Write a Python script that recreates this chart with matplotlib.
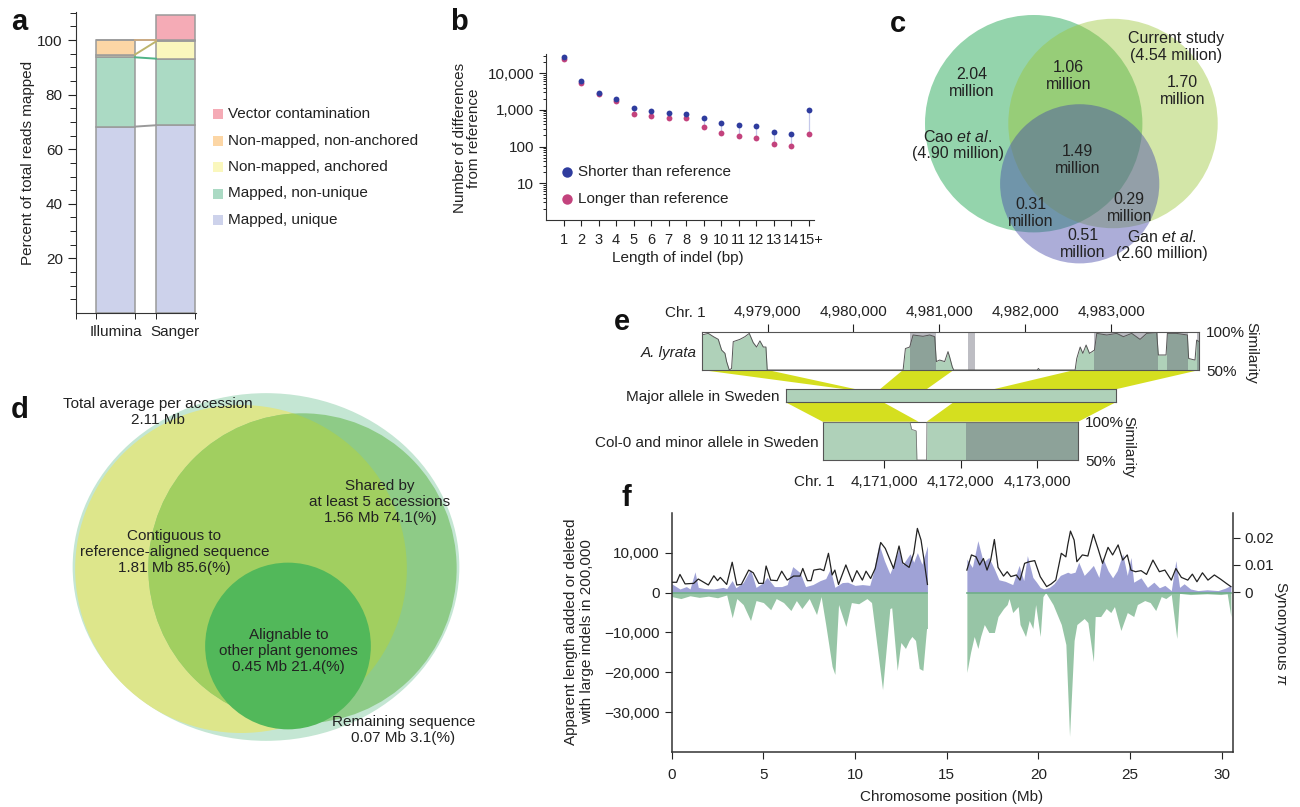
import numpy as np
import matplotlib.pyplot as plt
from matplotlib.patches import Ellipse, Circle, Rectangle, Polygon
from matplotlib.ticker import FixedLocator, FuncFormatter, NullFormatter, LogLocator
from matplotlib.transforms import blended_transform_factory, ScaledTranslation

plt.rcParams['font.family'] = ['Liberation Sans', 'DejaVu Sans']
plt.rcParams['font.size'] = 11
plt.rcParams['mathtext.fontset'] = 'custom'
plt.rcParams['mathtext.rm'] = 'Liberation Sans'
plt.rcParams['mathtext.it'] = 'Liberation Sans:italic'
plt.rcParams['mathtext.bf'] = 'Liberation Sans:bold'
plt.rcParams['axes.unicode_minus'] = True

TXT = '#222222'

# ---------------- data ----------------
# (a) read mapping, percent of total reads
platforms = ['Illumina', 'Sanger']
read_classes = ['Mapped, unique', 'Mapped, non-unique', 'Non-mapped, anchored',
                'Non-mapped, non-anchored', 'Vector contamination']
illumina_pct = [68.3, 25.4, 1.0, 5.3, 0.0]
sanger_pct = [68.8, 24.4, 6.3, 0.5, 9.2]

# (b) indel length spectrum
indel_labels = ['1', '2', '3', '4', '5', '6', '7', '8', '9', '10', '11', '12', '13', '14', '15+']
shorter_than_ref = [28000, 5900, 2950, 1950, 1150, 920, 840, 775, 590, 450, 380, 365, 255, 218, 1000]
longer_than_ref = [24000, 5200, 2650, 1750, 790, 680, 580, 590, 350, 230, 195, 175, 115, 105, 218]

# (c) SNP overlap (millions)
venn_c_regions = ['2.04\nmillion', '1.06\nmillion', '1.70\nmillion', '1.49\nmillion',
                  '0.31\nmillion', '0.29\nmillion', '0.51\nmillion']
venn_c_sets = [r'Cao $\it{et\ al.}$' + '\n(4.90 million)',
               'Current study\n(4.54 million)',
               r'Gan $\it{et\ al.}$' + '\n(2.60 million)']

# (d) non-reference sequence per accession
venn_d_labels = ['Total average per accession\n2.11 Mb',
                 'Contiguous to\nreference-aligned sequence\n1.81 Mb 85.6(%)',
                 'Shared by\nat least 5 accessions\n1.56 Mb 74.1(%)',
                 'Alignable to\nother plant genomes\n0.45 Mb 21.4(%)',
                 'Remaining sequence\n0.07 Mb 3.1(%)']

# (e) similarity profile of A. lyrata (bp, %)
lyrata_pos = [4978233, 4978310, 4978370, 4978426, 4978465, 4978504, 4978523, 4978554, 4978581,
              4978600, 4978678, 4978736, 4978787, 4978833, 4978872, 4978911, 4978950, 4978981, 4978996,
              4980578, 4980605, 4980655, 4980694, 4980810, 4980888, 4980946, 4980965, 4981004,
              4981062, 4981101, 4981120, 4981151, 4981167,
              4982140, 4982154, 4982168,
              4982581, 4982600, 4982640, 4982671, 4982709, 4982748, 4982806, 4982833, 4982950,
              4983066, 4983143, 4983240, 4983337, 4983415, 4983531, 4983550, 4983640, 4983655,
              4983760, 4983888, 4983903, 4983977, 4983996, 4984027]
lyrata_sim = [95.7, 97.8, 93.5, 90.0, 76.0, 71.7, 61.0, 50.0, 52.0,
              87.0, 90.0, 93.5, 97.8, 85.7, 80.0, 88.0, 80.0, 80.0, 50.0,
              50.0, 78.0, 80.0, 95.7, 94.0, 95.7, 93.5, 61.0, 63.0,
              61.0, 74.0, 67.0, 54.0, 50.0,
              50.0, 52.0, 50.0,
              50.0, 65.0, 80.0, 71.7, 82.6, 71.7, 76.0, 97.8, 95.7,
              97.8, 93.5, 97.8, 90.0, 97.8, 99.0, 69.6, 69.6, 97.8,
              97.8, 95.7, 65.0, 63.0, 89.0, 87.0]
lyrata_conserved = [(4980663, 4980958), (4981337, 4981415), (4982806, 4983550),
                    (4983647, 4983899), (4983996, 4984027)]

col0_pos = [4170200, 4171340, 4171361, 4171420, 4171430, 4171556, 4171560, 4173536]
col0_sim = [99.0, 99.0, 90.0, 88.0, 50.0, 50.0, 99.0, 99.0]
col0_conserved = [(4172076, 4173536)]

upper_links_top = [(4978233, 4979000), (4980577, 4981167), (4982573, 4984027)]
upper_links_major = [(700, 820), (1095, 1638), (2414, 3837)]
lower_links_major = [(0, 1135), (1951, 3837)]
lower_links_col0 = [(4170200, 4171450), (4171557, 4173536)]

# (f) large indels and synonymous diversity along chromosome 1 (Mb)
added_mb = [0.0, 0.45, 0.8, 1.0, 1.27, 1.45, 1.8, 2.3, 2.8, 3.0, 3.3, 3.5, 3.9, 4.3, 4.6, 5.0, 5.2,
            5.6, 6.0, 6.3, 6.6, 7.0, 7.3, 7.7, 8.1, 8.4, 8.65, 8.9, 9.3, 9.6, 10.0, 10.4, 10.8,
            11.0, 11.3, 11.6, 11.9, 12.1, 12.4, 12.6, 12.75, 13.0, 13.2, 13.4, 13.65, 13.95,
            16.1, 16.4, 16.7, 17.0, 17.3, 17.6, 17.85, 18.2, 18.6, 18.95, 19.2, 19.4, 19.7, 19.9,
            20.1, 20.3, 20.6, 20.85, 21.2, 21.6, 21.75, 22.0, 22.2, 22.5, 22.75, 23.0, 23.3, 23.5,
            23.8, 24.05, 24.3, 24.6, 24.85, 25.05, 25.2, 25.6, 25.95, 26.3, 26.6, 26.9, 27.25,
            27.5, 27.7, 27.95, 28.3, 28.7, 29.2, 29.8, 30.2, 30.5]
added_bp = [2200, 900, 1500, 900, 5200, 1300, 1000, 900, 1300, 1000, 3000, 1200, 2500, 5800, 1300,
            2500, 3800, 1500, 1500, 2000, 6500, 5000, 1500, 2000, 3000, 3500, 5900, 1300, 2500,
            2600, 1800, 2000, 1800, 5000, 12200, 8000, 4700, 7000, 11000, 7000, 8000, 9700, 7600,
            10000, 7100, 11700,
            8400, 6300, 13000, 7600, 8800, 5900, 3200, 2800, 2000, 6800, 3000, 9250, 3800, 2600,
            1300, 900, 1300, 2200, 4300, 5100, 4800, 5100, 7600, 4300, 5500, 6800, 3800, 8800,
            5500, 3700, 5500, 9700, 4300, 8800, 2600, 3700, 1300, 2600, 1200, 1800, 500,
            8000, 1300, 2200, 900, 500, 700, 500, 1100, 1800]
deleted_mb = [0.0, 0.5, 1.0, 1.5, 2.0, 2.5, 3.0, 3.3, 3.55, 3.9, 4.3, 4.6, 5.0, 5.4, 5.7, 6.1,
              6.5, 6.8, 7.1, 7.5, 7.9, 8.15, 8.4, 8.75, 8.9, 9.1, 9.5, 9.8, 10.2, 10.65, 10.9,
              11.5, 11.8, 11.9, 12.0, 12.3, 12.5, 12.75, 12.95, 13.1, 13.3, 13.5, 13.7, 13.9, 13.95,
              16.1, 16.3, 16.5, 16.7, 16.85, 17.05, 17.3, 17.6, 17.8, 18.1, 18.3, 18.4, 18.6,
              18.9, 19.0, 19.3, 19.5, 19.7, 19.85, 20.1, 20.25, 20.4, 20.8, 21.25, 21.5, 21.7,
              21.95, 22.1, 22.5, 22.7, 23.0, 23.1, 23.4, 23.7, 23.95, 24.15, 24.5, 24.85, 25.2,
              25.4, 25.8, 26.1, 26.4, 26.7, 26.95, 27.25, 27.55, 27.7, 28.3, 29.2, 29.95, 30.3,
              30.5]
deleted_bp = [-1000, -1500, -800, -1200, -900, -1300, -600, -6300, -1500, -3000, -7000, -2000,
              -2500, -4300, -1500, -2500, -4500, -2000, -4000, -1500, -5500, -1000, -8000, -18500,
              -20500, -3000, -8500, -2500, -2800, -1500, -2500, -24300, -9000, -4000, -3800,
              -19500, -12500, -14000, -12000, -11000, -12000, -19000, -19500, -9000, -9000,
              -20000, -15000, -11000, -14000, -11000, -8000, -10000, -10000, -6000, -4000, -3000,
              -1500, -5000, -3500, -8000, -11000, -7000, -9000, -3000, -11000, -1000, 0, -3000,
              -8000, -13000, -36000, -12000, -8000, -6500, -7500, -17300, -6000, -6000, -4000,
              -5000, -3500, -9500, -5000, -6000, -3000, -2000, -2500, -4500, -1000, -1500, -500,
              -11500, -200, -500, -300, -500, -300, -6000]
pi_mb = [0.0, 0.27, 0.45, 0.73, 1.2, 1.45, 2.0, 2.3, 2.5, 2.65, 3.0, 3.3, 3.55, 3.8, 4.2, 4.45,
         4.75, 5.0, 5.15, 5.4, 5.75, 6.0, 6.3, 6.65, 7.0, 7.15, 7.4, 7.6, 7.75, 8.1, 8.3, 8.55,
         8.75, 8.9, 9.1, 9.5, 9.85, 10.1, 10.4, 10.6, 10.85, 11.1, 11.4, 11.65, 12.1, 12.4, 12.6,
         12.95, 13.2, 13.4, 13.6, 13.75, 13.95,
         16.1, 16.35, 16.6, 16.8, 17.0, 17.2, 17.4, 17.6, 17.8, 18.1, 18.3, 18.5, 18.8, 19.0,
         19.25, 19.5, 19.8, 20.1, 20.45, 20.7, 20.95, 21.25, 21.5, 21.6, 21.75, 21.95, 22.1,
         22.4, 22.7, 23.0, 23.25, 23.5, 23.8, 24.05, 24.35, 24.6, 24.85, 25.05, 25.3, 25.6,
         25.9, 26.25, 26.6, 26.9, 27.25, 27.5, 27.8, 28.15, 28.4, 28.65, 28.95, 29.25, 29.6,
         29.95, 30.25, 30.5]
pi_syn = [0.0036, 0.0036, 0.0065, 0.0030, 0.0032, 0.0048, 0.0026, 0.0060, 0.0042, 0.0054,
          0.0028, 0.0110, 0.0026, 0.0028, 0.0081, 0.0071, 0.0032, 0.0032, 0.0096, 0.0044,
          0.0042, 0.0077, 0.0044, 0.0059, 0.0059, 0.0087, 0.0042, 0.0042, 0.0081, 0.0085,
          0.0079, 0.0143, 0.0063, 0.0081, 0.0028, 0.0100, 0.0038, 0.0079, 0.0044, 0.0077,
          0.0050, 0.0087, 0.0183, 0.0161, 0.0087, 0.0170, 0.0108, 0.0091, 0.0143, 0.0235,
          0.0192, 0.0124, 0.0028,
          0.0081, 0.0137, 0.0130, 0.0100, 0.0124, 0.0081, 0.0118, 0.0194, 0.0091, 0.0059,
          0.0075, 0.0057, 0.0063, 0.0044, 0.0106, 0.0112, 0.0116, 0.0057, 0.0020, 0.0030,
          0.0044, 0.0143, 0.0130, 0.0173, 0.0225, 0.0192, 0.0112, 0.0137, 0.0133, 0.0213,
          0.0161, 0.0106, 0.0165, 0.0137, 0.0174, 0.0118, 0.0137, 0.0081, 0.0075, 0.0079,
          0.0065, 0.0118, 0.0075, 0.0081, 0.0044, 0.0087, 0.0054, 0.0044, 0.0066, 0.0038,
          0.0071, 0.0044, 0.0063, 0.0047, 0.0032, 0.0020]
centromere_mb = 15.0

# ---------------- figure ----------------
W, H = 1300, 807
fig = plt.figure(figsize=(W / 100, H / 100), dpi=100)


def box(x0, y0, x1, y1):
    """pixel box (top-left origin) -> figure fraction rect"""
    return [x0 / W, 1 - y1 / H, (x1 - x0) / W, (y1 - y0) / H]


ov = fig.add_axes([0, 0, 1, 1], zorder=10)
ov.set_xlim(0, W)
ov.set_ylim(H, 0)
ov.axis('off')
ov.patch.set_alpha(0)

for lab, x, y in [('a', 19, 22), ('b', 459, 22), ('c', 898, 24), ('d', 20, 410),
                  ('e', 622, 322), ('f', 626, 498)]:
    ov.text(x, y, lab, fontsize=21, fontweight='bold', ha='center', va='center', color='#111')

# ---------- a ----------
axA = fig.add_axes(box(76, 12, 196, 313))
cls_colors = ['#cdd2eb', '#abdac4', '#faf7bd', '#fcd6a5', '#f5abb6']
link_colors = ['#9a9a9a', '#4fb487', '#bdb46c', '#c9a982']
bw = 0.65
cum = np.zeros(2)
tops = []
for i, name in enumerate(read_classes):
    vals = np.array([illumina_pct[i], sanger_pct[i]])
    axA.bar([0, 1], vals, bw, bottom=cum, color=cls_colors[i], edgecolor='#9a9a9a', lw=1.1)
    cum = cum + vals
    tops.append(cum.copy())
for i in range(4):
    axA.plot([bw / 2, 1 - bw / 2], [tops[i][0], tops[i][1]], color=link_colors[i], lw=1.4)
axA.set_xlim(-0.658, 1.342)
axA.set_ylim(0, 110.3)
axA.set_yticks([20, 40, 60, 80, 100])
axA.yaxis.set_minor_locator(FixedLocator(np.arange(5, 111, 5)))
axA.set_xticks([0, 1])
axA.set_xticklabels(platforms)
axA.xaxis.set_minor_locator(FixedLocator([-0.658, -bw / 2, bw / 2, 1 - bw / 2, 1 + bw / 2]))
axA.tick_params(axis='x', which='major', length=0, pad=9, labelsize=11, colors=TXT)
axA.tick_params(axis='x', which='minor', length=4, direction='out')
axA.tick_params(axis='y', which='major', length=6, labelsize=11, colors=TXT)
axA.tick_params(axis='y', which='minor', length=4)
for s in ['top', 'right']:
    axA.spines[s].set_visible(False)
for s in ['left', 'bottom']:
    axA.spines[s].set_color('#333')
ov.text(28, 163, 'Percent of total reads mapped', rotation=90, ha='center', va='center',
        fontsize=11, color=TXT)
for k, i in enumerate(range(4, -1, -1)):
    y = 114.3 + k * 26.4
    ov.add_patch(Rectangle((212.7, y - 5), 10, 10, color=cls_colors[i], lw=0))
    ov.text(228, y, read_classes[i], ha='left', va='center', fontsize=11, color=TXT)

# ---------- b ----------
axB = fig.add_axes(box(546, 54, 814, 220))
pos = np.arange(1, len(indel_labels) + 1)
axB.vlines(pos, longer_than_ref, shorter_than_ref, color='#c5c8ea', lw=0.9)
axB.plot(pos, longer_than_ref, 'o', color='#c3437d', ms=4.2, mec='none')
axB.plot(pos, shorter_than_ref, 'o', color='#2f3c9e', ms=4.2, mec='none')
axB.set_yscale('log')
axB.set_ylim(1, 33000)
axB.set_xlim(0, 15.3)
axB.set_yticks([10, 100, 1000, 10000])
axB.set_yticklabels(['10', '100', '1,000', '10,000'])
axB.yaxis.set_minor_locator(LogLocator(base=10, subs=np.arange(2, 10)))
axB.yaxis.set_minor_formatter(NullFormatter())
axB.set_xticks(pos)
axB.set_xticklabels(indel_labels)
axB.tick_params(axis='x', length=4, pad=5, labelsize=10.5, colors=TXT)
# the last label ("15+") sits a little to the right, as in the original
last = axB.get_xticklabels()[-1]
last.set_transform(last.get_transform() + ScaledTranslation(3 / 100, 0, fig.dpi_scale_trans))
axB.tick_params(axis='y', which='major', length=5, labelsize=11, colors=TXT)
axB.tick_params(axis='y', which='minor', length=2.5)
for s in ['top', 'right']:
    axB.spines[s].set_visible(False)
for s in ['left', 'bottom']:
    axB.spines[s].set_color('#333')
ov.text(467, 138, 'Number of differences\nfrom reference', rotation=90, ha='center',
        va='center', fontsize=11, color=TXT, linespacing=1.05)
ov.text(678, 258, 'Length of indel (bp)', ha='center', va='center', fontsize=11, color=TXT)
ov.plot([566.7], [171.7], 'o', color='#2f3c9e', ms=7.5, mec='none')
ov.plot([566.7], [199.3], 'o', color='#c3437d', ms=7.5, mec='none')
ov.text(578, 171.7, 'Shorter than reference', ha='left', va='center', fontsize=11, color=TXT)
ov.text(578, 199.3, 'Longer than reference', ha='left', va='center', fontsize=11, color=TXT)

# ---------- c ----------
ov.add_patch(Circle((1033.7, 123.7), 108.7, facecolor='#94d4ac', edgecolor='none', zorder=1))
ov.add_patch(Circle((1113.0, 123.5), 104.7, facecolor=(155 / 255, 197 / 255, 53 / 255),
                    alpha=0.43, edgecolor='none', zorder=2))
ov.add_patch(Circle((1079.7, 183.8), 79.6, facecolor=(66 / 255, 70 / 255, 168 / 255),
                    alpha=0.44, edgecolor='none', zorder=3))
c_xy = [(971.7, 83), (1068.7, 76), (1182.7, 91), (1077.7, 160), (1030.7, 213),
        (1129.3, 208), (1082.7, 244)]
for s, (x, y) in zip(venn_c_regions, c_xy):
    ov.text(x, y, s, ha='center', va='center', fontsize=11.5, color=TXT, linespacing=1.1, zorder=5)
for s, (x, y) in zip(venn_c_sets, [(958, 145), (1175.7, 47), (1161.7, 245)]):
    ov.text(x, y, s, ha='center', va='center', fontsize=11.5, color=TXT, linespacing=1.1, zorder=5)

# ---------- d ----------
ov.add_patch(Ellipse((266, 567), 386.7, 347.7, facecolor='#c4e6d3', edgecolor='none', zorder=1))
yel = Ellipse((241, 569), 331.7, 328, facecolor='#dde68b', edgecolor='none', zorder=2)
ov.add_patch(yel)
ov.add_patch(Ellipse((302.5, 568.3), 308.3, 310, facecolor='#8ecb87', edgecolor='none', zorder=3))
inner = Ellipse((302.5, 568.3), 308.3, 310, facecolor='#a1cf60', edgecolor='none', zorder=4)
ov.add_patch(inner)
inner.set_clip_path(yel)
ov.add_patch(Ellipse((288, 646), 165.7, 166.7, facecolor='#52b85a', edgecolor='none', zorder=5))
d_xy = [(158, 412), (174.3, 552), (380, 502), (288.7, 651), (403.3, 730)]
for s, (x, y) in zip(venn_d_labels, d_xy):
    ov.text(x, y, s, ha='center', va='center', fontsize=11, color=TXT, linespacing=1.2, zorder=6)

# ---------- e ----------
green_lt = '#afd1b9'
band_col = (92 / 255, 92 / 255, 105 / 255)


def comma(v, p=None):
    return f'{v:,.0f}'


axT = fig.add_axes(box(701.7, 331.7, 1199.3, 370))
axT.fill_between(lyrata_pos, 50, lyrata_sim, color=green_lt, lw=0, zorder=1)
for a, b in lyrata_conserved:
    axT.axvspan(a, b, color=band_col, alpha=0.4, lw=0, zorder=2)
axT.plot(lyrata_pos, lyrata_sim, color='#555', lw=0.7, zorder=3)
axT.set_xlim(4978233, 4984027)
axT.set_ylim(50, 100)
axT.xaxis.tick_top()
axT.set_xticks([4979000, 4980000, 4981000, 4982000, 4983000])
axT.xaxis.set_major_formatter(FuncFormatter(comma))
axT.tick_params(axis='x', length=6, pad=3, labelsize=11, colors=TXT)
axT.yaxis.tick_right()
axT.set_yticks([50, 100])
axT.set_yticklabels(['50%', '100%'])
axT.tick_params(axis='y', length=0, pad=5, labelsize=11, colors=TXT)
for s in axT.spines.values():
    s.set_color('#555')

axM = fig.add_axes(box(785.7, 389.3, 1115.7, 402.3))
axM.set_xlim(0, 3837)
axM.set_facecolor(green_lt)
axM.set_xticks([])
axM.set_yticks([])
for s in axM.spines.values():
    s.set_color('#555')

axL = fig.add_axes(box(822.7, 421.7, 1078.3, 460))
axL.fill_between(col0_pos, 50, col0_sim, color=green_lt, lw=0, zorder=1)
for a, b in col0_conserved:
    axL.axvspan(a, b, color=band_col, alpha=0.4, lw=0, zorder=2)
axL.plot(col0_pos, col0_sim, color='#777', lw=0.6, zorder=3)
axL.set_xlim(4170200, 4173536)
axL.set_ylim(50, 100)
axL.set_xticks([4171000, 4172000, 4173000])
axL.xaxis.set_major_formatter(FuncFormatter(comma))
axL.tick_params(axis='x', length=6, pad=5, labelsize=11, colors=TXT)
axL.yaxis.tick_right()
axL.set_yticks([50, 100])
axL.set_yticklabels(['50%', '100%'])
axL.tick_params(axis='y', length=0, pad=5, labelsize=11, colors=TXT)
for s in axL.spines.values():
    s.set_color('#555')

to_fig = fig.transFigure.inverted()


def link(ax_up, ax_dn, up, dn):
    tu = blended_transform_factory(ax_up.transData, ax_up.transAxes)
    td = blended_transform_factory(ax_dn.transData, ax_dn.transAxes)
    pts = [tu.transform((up[0], 0)), tu.transform((up[1], 0)),
           td.transform((dn[1], 1)), td.transform((dn[0], 1))]
    fig.add_artist(Polygon(to_fig.transform(pts), closed=True, transform=fig.transFigure,
                           facecolor='#d5df1f', edgecolor='none', zorder=0))


for up, dn in zip(upper_links_top, upper_links_major):
    link(axT, axM, up, dn)
for up, dn in zip(lower_links_major, lower_links_col0):
    link(axM, axL, up, dn)

ov.text(685, 312.7, 'Chr. 1', ha='center', va='center', fontsize=11, color=TXT)
ov.text(814, 481.7, 'Chr. 1', ha='center', va='center', fontsize=11, color=TXT)
ov.text(696.7, 352.7, 'A. lyrata', ha='right', va='center', fontsize=11, style='italic', color=TXT)
ov.text(780, 396.5, 'Major allele in Sweden', ha='right', va='center', fontsize=11, color=TXT)
ov.text(818.3, 443.3, 'Col-0 and minor allele in Sweden', ha='right', va='center', fontsize=11,
        color=TXT)
ov.text(1251.7, 353, 'Similarity', rotation=270, ha='center', va='center', fontsize=11, color=TXT)
ov.text(1128.3, 446.7, 'Similarity', rotation=270, ha='center', va='center', fontsize=11, color=TXT)

# ---------- f ----------
axF = fig.add_axes(box(671.7, 512.7, 1232.7, 752.3))
axF2 = axF.twinx()
added_mb_a, added_bp_a = np.array(added_mb), np.array(added_bp)
deleted_mb_a, deleted_bp_a = np.array(deleted_mb), np.array(deleted_bp)
pi_mb_a, pi_syn_a = np.array(pi_mb), np.array(pi_syn)
for arm in [lambda v: v < centromere_mb, lambda v: v > centromere_mb]:
    m = arm(added_mb_a)
    axF.fill_between(added_mb_a[m], 0, added_bp_a[m], color='#9fa2d6', lw=0)
    m = arm(deleted_mb_a)
    axF.fill_between(deleted_mb_a[m], 0, deleted_bp_a[m], color='#97c5a6', lw=0)
    axF.plot([deleted_mb_a[m][0], deleted_mb_a[m][-1]], [0, 0], color='#6fae88', lw=1.2)
    m = arm(pi_mb_a)
    axF2.plot(pi_mb_a[m], pi_syn_a[m], color='#222', lw=0.9)
axF.set_xlim(0, 30.6)
axF.set_ylim(-40000, 20000)
axF2.set_ylim(-0.0592, 0.0293)
axF.set_xticks([0, 5, 10, 15, 20, 25, 30])
axF.set_yticks([-30000, -20000, -10000, 0, 10000])
axF.yaxis.set_major_formatter(FuncFormatter(lambda v, p: f'{v:,.0f}'.replace('-', '\u2212')))
axF2.set_yticks([0, 0.01, 0.02])
axF2.set_yticklabels(['0', '0.01', '0.02'])
axF.tick_params(axis='both', length=5, labelsize=11, colors=TXT)
axF.tick_params(axis='x', pad=6)
axF2.tick_params(axis='y', length=5, labelsize=11, colors=TXT)
axF.spines['top'].set_visible(False)
axF2.spines['top'].set_visible(False)
axF.spines['right'].set_visible(False)
for s in [axF.spines['left'], axF.spines['bottom'], axF2.spines['right']]:
    s.set_color('#333')
    s.set_linewidth(1.1)
axF2.spines['left'].set_visible(False)
axF2.spines['bottom'].set_visible(False)
ov.text(579, 632, 'Apparent length added or deleted\nwith large indels in 200,000', rotation=90,
        ha='center', va='center', fontsize=11, color=TXT, linespacing=1.15)
ov.text(1280, 633, r'Synonymous $\pi$', rotation=270, ha='center', va='center', fontsize=11,
        color=TXT)
ov.text(952, 797, 'Chromosome position (Mb)', ha='center', va='center', fontsize=11, color=TXT)

fig.savefig('out.png', dpi=100)
